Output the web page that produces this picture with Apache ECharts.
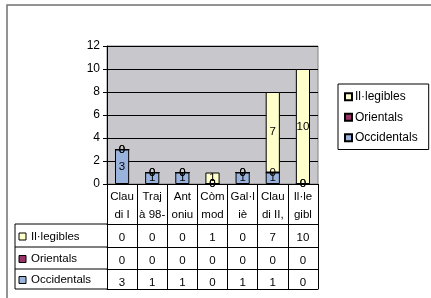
<!DOCTYPE html>
<html lang="ca">

<head>
    <meta charset="UTF-8">
    <title>Monedes</title>
    <style>
        body { margin: 0; background: #fff; }
        #main { width: 431px; height: 298px; }
    </style>
</head>

<body>
    <div id="main"></div>
</body>
<script src="https://cdn.jsdelivr.net/npm/echarts@6/dist/echarts.min.js"></script>

<script>
    // categories as shown (wrapped) in the data table
    var categories = ['Clau\ndi I', 'Traj\nà 98-', 'Ant\noniu', 'Còm\nmod', 'Gal·l\niè', 'Clau\ndi II,', 'Il·le\ngibl'];
    var illegibles = [0, 0, 0, 1, 0, 7, 10];
    var orientals = [0, 0, 0, 0, 0, 0, 0];
    var occidentals = [3, 1, 1, 0, 1, 1, 0];
    var yTicks = [0, 2, 4, 6, 8, 10, 12];

    var seriesNames = ['Il·legibles', 'Orientals', 'Occidentals'];
    var colors = { 'Il·legibles': '#ffffcc', 'Orientals': '#993366', 'Occidentals': '#99b3dd' };

    var font = 'Liberation Sans, Arial, sans-serif';
    var gridLeft = 107, gridTop = 46, gridW = 211, gridH = 138;
    var rowOffsets = [40, 63, 85, 105];

    var myChart = echarts.init(document.getElementById('main'));

    function rowAxis(offset, values) {
        return {
            type: 'category',
            data: categories,
            position: 'bottom',
            offset: offset,
            axisLine: { show: true, lineStyle: { color: '#000', width: 1 } },
            axisTick: { show: false },
            axisLabel: {
                show: !!values,
                margin: 8,
                fontSize: 11.5,
                fontFamily: font,
                color: '#000',
                formatter: function (v, i) { return values ? String(values[i]) : ''; }
            }
        };
    }

    function barSeries(name, data) {
        return {
            name: name,
            type: 'bar',
            stack: 'total',
            xAxisIndex: 0,
            barWidth: '47%',
            data: data,
            itemStyle: { color: colors[name], borderColor: '#000', borderWidth: 1 },
            label: {
                show: true,
                position: 'inside',
                fontSize: 11.5,
                fontFamily: font,
                color: '#000'
            }
        };
    }

    // left column of the data table
    var tableLeft = 15;
    var graphics = [{
        type: 'rect',
        shape: { x: 7, y: 5, width: 440, height: 310 },
        style: { fill: 'none', stroke: '#707070', lineWidth: 1.5 },
        silent: true
    }, {
        type: 'line',
        shape: { x1: tableLeft, y1: gridTop + gridH + rowOffsets[0], x2: tableLeft, y2: gridTop + gridH + rowOffsets[3] },
        style: { stroke: '#000', lineWidth: 1 }
    }];
    rowOffsets.forEach(function (off) {
        var y = gridTop + gridH + off;
        graphics.push({
            type: 'line',
            shape: { x1: tableLeft, y1: y, x2: gridLeft, y2: y },
            style: { stroke: '#000', lineWidth: 1 }
        });
    });
    seriesNames.forEach(function (name, i) {
        var yc = gridTop + gridH + (rowOffsets[i] + rowOffsets[i + 1]) / 2 + 1;
        graphics.push({
            type: 'rect',
            shape: { x: 19, y: yc - 3.5, width: 7, height: 7 },
            style: { fill: colors[name], stroke: '#000', lineWidth: 1 }
        });
        graphics.push({
            type: 'text',
            x: 31, y: yc,
            style: { text: name, fontSize: 11.5, fontFamily: font, fill: '#000', textVerticalAlign: 'middle', verticalAlign: 'middle' }
        });
    });

    myChart.setOption({
        animation: false,
        textStyle: { fontFamily: font },
        grid: {
            left: gridLeft, top: gridTop, width: gridW, height: gridH,
            show: true, backgroundColor: '#c8c8cc', borderColor: '#808080', borderWidth: 1,
            containLabel: false
        },
        legend: {
            data: seriesNames,
            orient: 'vertical',
            left: 338,
            top: 84,
            itemWidth: 7,
            itemHeight: 7,
            itemGap: 7,
            icon: 'rect',
            padding: [6, 11, 5, 6],
            borderColor: '#000',
            borderWidth: 1,
            textStyle: { fontSize: 12, fontFamily: font, color: '#000', padding: [0, 0, 0, -2], lineHeight: 13.5 }
        },
        xAxis: [{
            type: 'category',
            data: categories,
            position: 'bottom',
            axisLine: { show: true, lineStyle: { color: '#000', width: 1 } },
            axisTick: { show: true, alignWithLabel: false, length: rowOffsets[3], lineStyle: { color: '#000', width: 1 } },
            axisLabel: {
                margin: 4,
                fontSize: 11.5,
                fontFamily: font,
                color: '#000',
                lineHeight: 18,
                interval: 0
            }
        },
            rowAxis(rowOffsets[0], illegibles),
            rowAxis(rowOffsets[1], orientals),
            rowAxis(rowOffsets[2], occidentals),
            rowAxis(rowOffsets[3], null)
        ],
        yAxis: {
            type: 'value',
            min: yTicks[0],
            max: yTicks[yTicks.length - 1],
            interval: 2,
            axisLine: { show: true, lineStyle: { color: '#000' } },
            axisTick: { show: true, length: 4, lineStyle: { color: '#000' } },
            axisLabel: { fontSize: 12, fontFamily: font, color: '#000', margin: 7 },
            splitLine: { show: true, lineStyle: { color: '#000', width: 1 } }
        },
        series: [
            barSeries('Occidentals', occidentals),
            barSeries('Orientals', orientals),
            barSeries('Il·legibles', illegibles)
        ],
        graphic: graphics
    });
</script>

</html>
